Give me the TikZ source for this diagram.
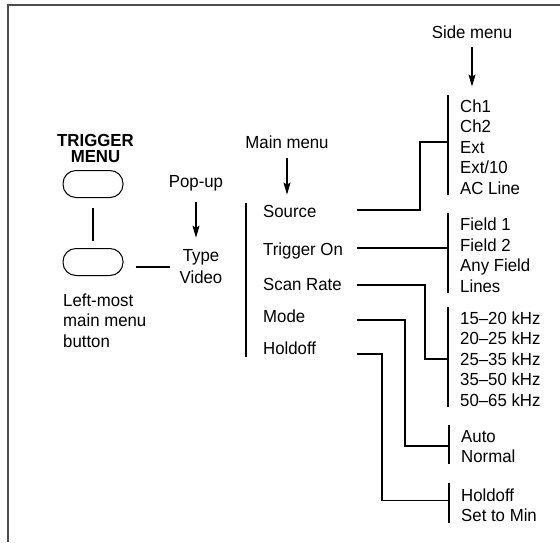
\documentclass[tikz,border=0pt]{standalone}
\usepackage{fontspec}
\setmainfont{Liberation Sans}[FakeStretch=0.96]
\usetikzlibrary{arrows.meta}
\tikzset{
  lbl/.style={anchor=base west,inner sep=0pt,align=left},
  btn/.style={draw,line width=1pt,rounded corners=13pt,minimum width=60pt,minimum height=27pt},
  wire/.style={line width=1.8pt},
  arr/.style={line width=1.3pt,-{Stealth[length=12pt,width=7pt,inset=2pt]}},
}
\begin{document}
\begin{tikzpicture}[x=1pt,y=-1pt,font=\fontsize{17.5}{20.4}\selectfont]
\useasboundingbox (0,0) rectangle (560,542);
\draw[black!70,line width=1.5pt] (560,5)--(8,5)--(8,542);
% front panel buttons
\node[anchor=north,inner sep=0pt,align=center,font=\fontsize{17.5}{16}\selectfont\bfseries] (trig) at (95.5,134.5) {TRIGGER\\MENU};
\node[btn] (btn1) at (93,184) {};
\node[btn] (btn2) at (93,262) {};
\node[lbl] (leftmost) at (63,347) {Left-most\\main menu\\button};
\draw[wire,shorten <=10pt,shorten >=7pt] (btn1) -- (btn2);
% pop-up
\node[anchor=base,inner sep=0pt] (popl) at (196,187) {Pop-up};
\node[inner sep=0pt,align=center,font=\fontsize{17.5}{22}\selectfont] (pop) at (201,267) {Type\\Video};
\draw[arr,shorten <=11pt,shorten >=12pt] (popl.south) -- (popl.south |- pop.north);
\draw[wire,shorten <=12pt,shorten >=9pt] (btn2.east |- pop.west) -- (pop.west);
% main menu
\node[anchor=base,inner sep=0pt] (mainl) at (287,148) {Main menu};
\node[lbl] (src) at (263,217) {Source};
\node[lbl] (trg) at (263,255) {Trigger On};
\node[lbl] (scn) at (263,290) {Scan Rate};
\node[lbl] (mode) at (263,322) {Mode};
\node[lbl] (hold) at (263,354) {Holdoff};
\draw[arr,shorten <=10pt,shorten >=10pt] (mainl.south) -- (mainl.south |- src.north);
\draw[wire] ([shift={(-17pt,1.5pt)}]src.north west) -- ([shift={(-17pt,-3pt)}]hold.south west);
% side menus
\node[anchor=base,inner sep=0pt] (sidel) at (472,38) {Side menu};
\node[lbl] (s1) at (460,194) {Ch1\\Ch2\\Ext\\Ext/10\\AC Line};
\node[lbl] (s2) at (460,292) {Field 1\\Field 2\\Any Field\\Lines};
\node[lbl] (s3) at (460,406) {15--20 kHz\\20--25 kHz\\25--35 kHz\\35--50 kHz\\50--65 kHz};
\node[lbl] (s4) at (461,462.5) {Auto\\Normal};
\node[lbl] (s5) at (461,521.5) {Holdoff\\Set to Min};
\draw[arr,shorten <=9pt,shorten >=13pt] (sidel.south) -- (sidel.south |- s1.north);
\foreach \g in {s1,s2,s3,s4,s5}
  \draw[wire] ([shift={(-12pt,5pt)}]\g.north west) -- ([shift={(-12pt,-1pt)}]\g.south west);
% connectors
\coordinate (src-o) at (357,210);
\coordinate (trg-o) at (357,248);
\coordinate (scn-o) at (357,285);
\coordinate (mode-o) at (357,320);
\coordinate (hold-o) at (357,354);
\draw[wire] (src-o) -| ([shift={(-40pt,5pt)}]s1.west) -- ([shift={(-12pt,5pt)}]s1.west);
\draw[wire] (trg-o) -- ([xshift=-12pt]s2.west |- trg-o);
\draw[wire] (scn-o) -| ([xshift=-35pt]s3.west) -- ([xshift=-12pt]s3.west);
\draw[wire] (mode-o) -| ([xshift=-56pt]s4.west) -- ([xshift=-12pt]s4.west);
\draw[wire] (hold-o) -| ([shift={(-79pt,4.5pt)}]s5.west) -- ([shift={(-12pt,4.5pt)}]s5.west);
\end{tikzpicture}
\end{document}
